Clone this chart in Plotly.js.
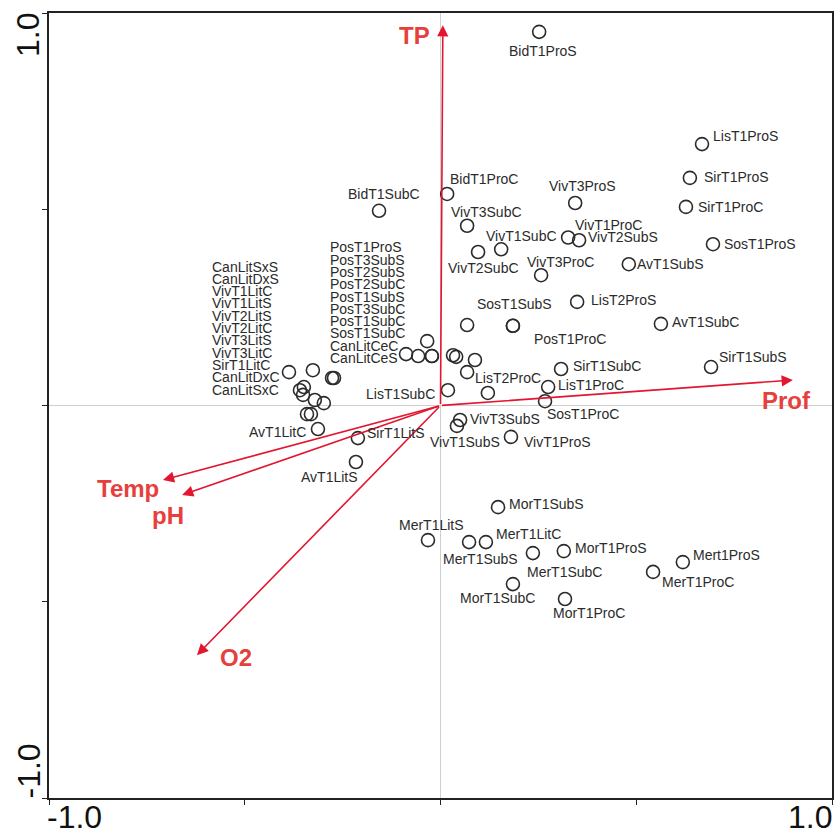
<!DOCTYPE html>
<html>
<head>
<meta charset="utf-8">
<script src="https://cdn.plot.ly/plotly-3.0.1.min.js"></script>
<style>html,body{margin:0;padding:0;background:#fff;}#chart{width:834px;height:834px;}</style>
</head>
<body>
<div id="chart"></div>
<script>
// ---- Site scores (ordination axis 1, axis 2) ----
const siteNames = [
  'BidT1ProS','LisT1ProS','SirT1ProS','SirT1ProC','SosT1ProS','AvT1SubS','VivT3ProS','BidT1ProC',
  'VivT3SubC','VivT1ProC','VivT2SubS','VivT1SubC','VivT2SubC','VivT3ProC','BidT1SubC','LisT2ProS',
  'AvT1SubC','SosT1SubS','PosT1ProC','SirT1SubC','LisT1ProC','SosT1ProC','SirT1SubS','LisT1SubC',
  'VivT3SubS','VivT1SubS','VivT1ProS','SirT1LitS','AvT1LitS','AvT1LitC','MorT1SubS','MerT1LitS',
  'MerT1SubS','MerT1LitC','MerT1SubC','MorT1ProS','MorT1SubC','MorT1ProC','MerT1ProC','Mert1ProS',
  'LisT2ProC',
  'SirT1LitC','CanLitSxS','CanLitDxS','VivT1LitC','VivT1LitS','VivT2LitS','VivT2LitC','VivT3LitS',
  'VivT3LitC','CanLitDxC','CanLitSxC',
  'PosT1ProS','PosT3SubS','PosT2SubS','PosT2SubC','PosT1SubS','PosT3SubC','PosT1SubC','SosT1SubC',
  'CanLitCeC','CanLitCeS'
];
const siteX = [
  0.252, 0.668, 0.637, 0.627, 0.696, 0.481, 0.344, 0.017,
  0.068, 0.326, 0.354, 0.155, 0.096, 0.257, -0.157, 0.349,
  0.563, 0.185, 0.185, 0.308, 0.275, 0.267, 0.691, 0.019,
  0.050, 0.042, 0.180, -0.211, -0.216, -0.313, 0.147, -0.032,
  0.073, 0.116, 0.236, 0.315, 0.185, 0.318, 0.543, 0.619,
  0.121,
  -0.387, -0.326, -0.277, -0.272, -0.359, -0.349, -0.351, -0.321,
  -0.298, -0.341, -0.331,
  0.068, -0.034, 0.032, 0.040, 0.088, 0.068, -0.022, -0.022,
  -0.057, -0.088
];
const siteY = [
  0.952, 0.666, 0.580, 0.506, 0.411, 0.360, 0.516, 0.539,
  0.458, 0.428, 0.421, 0.398, 0.391, 0.332, 0.496, 0.264,
  0.208, 0.203, 0.203, 0.093, 0.047, 0.011, 0.098, 0.039,
  -0.037, -0.052, -0.080, -0.083, -0.144, -0.060, -0.259, -0.343,
  -0.348, -0.348, -0.376, -0.371, -0.455, -0.493, -0.424, -0.399,
  0.032,
  0.085, 0.090, 0.070, 0.070, 0.039, 0.047, 0.027, 0.014,
  0.006, -0.022, -0.022,
  0.205, 0.164, 0.128, 0.124, 0.116, 0.085, 0.126, 0.126,
  0.126, 0.131
];

// ---- Environmental vectors ----
const envNames = ['TP', 'Prof', 'Temp', 'pH', 'O2'];
const envX = [0.006, 0.900, -0.709, -0.660, -0.622];
const envY = [0.969, 0.065, -0.190, -0.228, -0.636];

// ---- Axis tick labels ----
const tickLabels = ['-1.0', '1.0'];

// ---- Label groups (stacked label columns) ----
const leftBlock = ['CanLitSxS','CanLitDxS','VivT1LitC','VivT1LitS','VivT2LitS','VivT2LitC',
                   'VivT3LitS','VivT3LitC','SirT1LitC','CanLitDxC','CanLitSxC'];
const midBlock = ['PosT1ProS','PosT3SubS','PosT2SubS','PosT2SubC','PosT1SubS','PosT3SubC',
                  'PosT1SubC','SosT1SubC','CanLitCeC','CanLitCeS'];

// ---- Label placement (pixel offsets of label centre from its circle) ----
const labelOffset = {
  BidT1ProS:[4,19], LisT1ProS:[43,-8], SirT1ProS:[47,-1], SirT1ProC:[45,0], SosT1ProS:[47,0],
  AvT1SubS:[42,0], VivT3ProS:[7,-17], BidT1ProC:[37,-15], VivT3SubC:[19,-14], VivT1ProC:[40,-13],
  VivT2SubS:[44,-3], VivT1SubC:[20,-13], VivT2SubC:[5,16], VivT3ProC:[19,-13], BidT1SubC:[5,-17],
  LisT2ProS:[46,-2], AvT1SubC:[45,-2], SosT1SubS:[2,-22], PosT1ProC:[57,13], SirT1SubC:[46,-3],
  LisT1ProC:[43,-2], SosT1ProC:[38,13], SirT1SubS:[42,-10], LisT1SubC:[-47,4], VivT3SubS:[45,-1],
  VivT1SubS:[8,16], VivT1ProS:[47,5], SirT1LitS:[38,-5], AvT1LitS:[-26,15], AvT1LitC:[-40,3],
  MorT1SubS:[48,-3], MerT1LitS:[4,-15], MerT1SubS:[11,17], MerT1LitC:[43,-8], MerT1SubC:[32,19],
  MorT1ProS:[47,-3], MorT1SubC:[-15,14], MorT1ProC:[24,14], MerT1ProC:[45,10], Mert1ProS:[44,-7],
  LisT2ProC:[20,-15]
};
const envLabelOffset = {TP:[-28,10], Prof:[-6,21], Temp:[-35,8], pH:[-14,21], O2:[39,2]};

const FONT = '"Liberation Sans", Arial, Helvetica, sans-serif';
const RED = '#e3152f';
const RED_TXT = '#e6403c';
const INK = '#2b2b2b';

const annotations = [];

// environmental arrows
envNames.forEach((n, i) => {
  annotations.push({
    x: envX[i], y: envY[i], ax: 0, ay: 0, xref: 'x', yref: 'y', axref: 'x', ayref: 'y',
    showarrow: true, arrowhead: 2, arrowsize: 1.4, arrowwidth: 1.6, arrowcolor: RED, text: ''
  });
  const o = envLabelOffset[n];
  annotations.push({
    x: envX[i], y: envY[i], xref: 'x', yref: 'y', showarrow: false, text: n,
    xshift: o[0], yshift: -o[1], xanchor: 'center', yanchor: 'middle',
    font: {family: FONT, size: 24, color: RED_TXT, weight: 'bold'}
  });
});

// individual site labels
siteNames.forEach((n, i) => {
  const o = labelOffset[n];
  if (!o) return;
  annotations.push({
    x: siteX[i], y: siteY[i], xref: 'x', yref: 'y', showarrow: false, text: n,
    xshift: o[0], yshift: -o[1], xanchor: 'center', yanchor: 'middle',
    font: {family: FONT, size: 14, color: INK}
  });
});

// stacked label columns
function addBlock(names, x0, y0) {
  names.forEach((n, i) => {
    annotations.push({
      x: x0, y: y0, xref: 'x', yref: 'y', showarrow: false, text: n,
      xanchor: 'left', yanchor: 'middle', yshift: -i * 12.3, xshift: 0,
      font: {family: FONT, size: 14, color: INK}
    });
  });
}
addBlock(leftBlock, -0.588, 0.354);
addBlock(midBlock, -0.287, 0.403);

// tick labels
const TICKFONT = {family: FONT, size: 32, color: '#111'};
annotations.push({xref:'paper', yref:'paper', x:0, y:0, xanchor:'left', yanchor:'top', yshift:1, xshift:-4,
  text: tickLabels[0], showarrow:false, font:TICKFONT});
annotations.push({xref:'paper', yref:'paper', x:1, y:0, xanchor:'right', yanchor:'top', yshift:1, xshift:2,
  text: tickLabels[1], showarrow:false, font:TICKFONT});
annotations.push({xref:'paper', yref:'paper', x:0, y:1, xanchor:'right', yanchor:'top', xshift:-1, yshift:2,
  text: tickLabels[1], textangle:-90, showarrow:false, font:TICKFONT});
annotations.push({xref:'paper', yref:'paper', x:0, y:0, xanchor:'right', yanchor:'bottom', xshift:-1, yshift:-2,
  text: tickLabels[0], textangle:-90, showarrow:false, font:TICKFONT});

const trace = {
  type: 'scatter', mode: 'markers', x: siteX, y: siteY, text: siteNames, hoverinfo: 'text',
  marker: {symbol: 'circle-open', size: 13, color: INK, line: {width: 1.6, color: INK}},
  cliponaxis: false
};

const axisCommon = {
  range: [-1, 1], showgrid: false, zeroline: true, zerolinecolor: '#cfcfcf', zerolinewidth: 1,
  showline: true, mirror: true, linecolor: '#222', linewidth: 2,
  ticks: 'outside', ticklen: 5, tickwidth: 1, tickcolor: '#222',
  tickvals: [-1, -0.5, 0, 0.5, 1], showticklabels: false, fixedrange: true
};

const layout = {
  width: 834, height: 834,
  margin: {l: 49, r: 2, t: 13, b: 36},
  paper_bgcolor: '#fff', plot_bgcolor: '#fff',
  showlegend: false,
  xaxis: Object.assign({}, axisCommon),
  yaxis: Object.assign({}, axisCommon),
  annotations: annotations
};

Plotly.newPlot('chart', [trace], layout, {displayModeBar: false, staticPlot: true});
</script>
</body>
</html>
